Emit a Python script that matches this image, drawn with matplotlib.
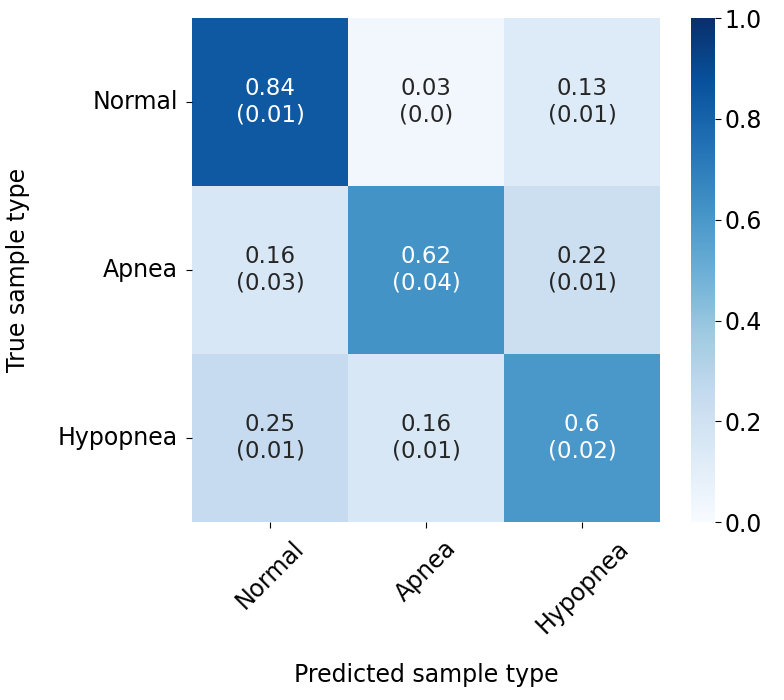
import numpy as np
import matplotlib
matplotlib.use("Agg")
import matplotlib.pyplot as plt
import seaborn as sns

labels = ["Normal", "Apnea", "Hypopnea"]
means = np.array([[0.84, 0.03, 0.13],
                  [0.16, 0.62, 0.22],
                  [0.25, 0.16, 0.6]])
stds = [["0.01", "0.0", "0.01"],
        ["0.03", "0.04", "0.01"],
        ["0.01", "0.01", "0.02"]]

annot = np.array([[f"{means[i, j]:g}\n({stds[i][j]})" for j in range(3)]
                  for i in range(3)])

fig = plt.figure(figsize=(7.84, 7.0), dpi=100)
ax = fig.add_axes([0.245, 0.254, 0.597, 0.72])
cax = fig.add_axes([0.882, 0.254, 0.030, 0.72])

sns.heatmap(means, annot=annot, fmt="", cmap="Blues", vmin=0, vmax=1,
            ax=ax, cbar_ax=cax, xticklabels=labels, yticklabels=labels,
            annot_kws={"size": 16.5})

ax.set_xlabel("Predicted sample type", fontsize=17, labelpad=18)
ax.set_ylabel("True sample type", fontsize=17, labelpad=20)
ax.tick_params(labelsize=17, length=4, pad=6)
plt.setp(ax.get_xticklabels(), rotation=45, ha="center")
plt.setp(ax.get_yticklabels(), rotation=0)
cax.tick_params(labelsize=17, length=4, pad=3)

fig.savefig("out.png", dpi=100)
